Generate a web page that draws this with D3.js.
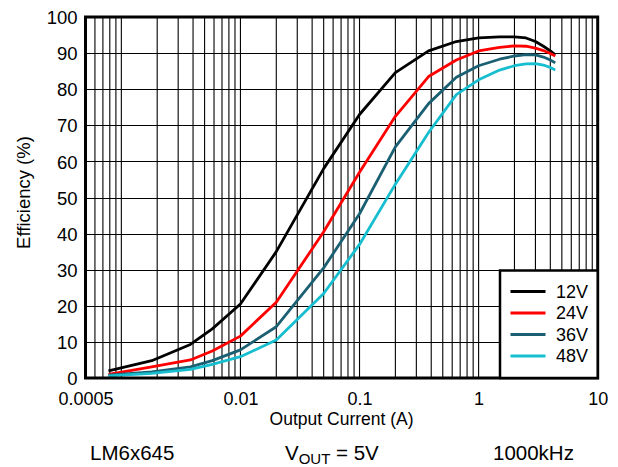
<!DOCTYPE html>
<html>
<head>
<meta charset="utf-8">
<script src="https://cdn.jsdelivr.net/npm/d3@7"></script>
<style>
  html, body { margin: 0; padding: 0; background: #fff; }
  svg { display: block; font-family: "Liberation Sans", Arial, sans-serif; }
</style>
</head>
<body>
<svg id="chart" width="618" height="467"></svg>
<script>
// ---- data ----
const currents = [0.00078, 0.0018, 0.0038, 0.0058, 0.01, 0.02, 0.05, 0.1, 0.2, 0.38, 0.65, 1, 1.5, 2, 2.5, 3, 3.5, 4, 4.4];
const eff12V = [2.0, 4.8, 9.3, 13.6, 20.5, 35.0, 58.0, 73.0, 84.6, 90.6, 93.2, 94.2, 94.5, 94.5, 94.2, 93.2, 91.9, 90.6, 89.5];
const eff24V = [1.0, 3.1, 5.0, 7.5, 11.6, 21.0, 40.5, 57.0, 72.5, 83.5, 88.1, 90.6, 91.6, 92.0, 91.9, 91.4, 90.7, 89.9, 89.2];
const eff36V = [0.8, 1.7, 3.1, 4.8, 7.8, 14.2, 30.5, 45.5, 64.0, 76.0, 83.3, 86.5, 88.3, 89.2, 89.6, 89.5, 88.9, 88.1, 87.3];
const eff48V = [0.6, 1.3, 2.4, 3.8, 5.9, 10.5, 23.4, 37.0, 53.7, 68.0, 78.5, 82.6, 85.3, 86.5, 87.0, 87.1, 86.7, 86.0, 85.3];
const seriesNames = ["12V", "24V", "36V", "48V"];
const seriesColors = ["#000000", "#ff0000", "#1b5f73", "#17becf"];
const yTicks = [0, 10, 20, 30, 40, 50, 60, 70, 80, 90, 100];
const xTickLabels = [0.0005, 0.01, 0.1, 1, 10];

const series = [eff12V, eff24V, eff36V, eff48V].map((vals, i) => ({
  name: seriesNames[i], color: seriesColors[i],
  points: currents.map((c, j) => [c, vals[j]])
}));

// ---- layout ----
const L = 85.5, R = 597.7, T = 17, B = 378;
const svg = d3.select("#chart");
const x = d3.scaleLog().domain([0.0005, 10]).range([L, R]);
const y = d3.scaleLinear().domain([0, 100]).range([B, T]);

// minor vertical grid
const minor = [];
for (let e = -4; e <= 0; e++) {
  for (let m = 1; m <= 9; m++) {
    const v = m * Math.pow(10, e);
    if (v > 0.0005 * 1.0001 && v < 10 * 0.9999) minor.push(+v.toPrecision(3));
  }
}
const g = svg.append("g");
g.selectAll("line.vg").data(minor).join("line")
  .attr("x1", d => x(d)).attr("x2", d => x(d))
  .attr("y1", T).attr("y2", B)
  .attr("stroke", "#000").attr("stroke-width", 1.1);
g.selectAll("line.hg").data(yTicks.slice(1, -1)).join("line")
  .attr("x1", L).attr("x2", R)
  .attr("y1", d => Math.round(y(d)) + 0.5).attr("y2", d => Math.round(y(d)) + 0.5)
  .attr("stroke", "#000").attr("stroke-width", 1.1);

// curves
const line = d3.line().x(d => x(d[0])).y(d => y(d[1]));
svg.append("g").selectAll("path").data(series).join("path")
  .attr("d", d => line(d.points))
  .attr("fill", "none")
  .attr("stroke", d => d.color)
  .attr("stroke-width", 2.8)
  .attr("stroke-linejoin", "round");

// frame
svg.append("rect").attr("x", L).attr("y", T).attr("width", R - L).attr("height", B - T)
  .attr("fill", "none").attr("stroke", "#000").attr("stroke-width", 3);

// y axis
const yAxis = d3.axisLeft(y).tickValues(yTicks).tickSize(0).tickPadding(8).tickFormat(d3.format("d"));
const ya = svg.append("g").attr("transform", `translate(${L},0)`).call(yAxis);
ya.select(".domain").remove();
ya.selectAll("text").attr("font-size", 18.5).attr("fill", "#000")
  .attr("font-family", "Liberation Sans, Arial, sans-serif").attr("dy", "0.36em");

// x axis
const xAxis = d3.axisBottom(x).tickValues(xTickLabels).tickSize(0).tickPadding(14)
  .tickFormat(d => String(d));
const xa = svg.append("g").attr("transform", `translate(0,${B})`).call(xAxis);
xa.select(".domain").remove();
xa.selectAll("text").attr("font-size", 18).attr("fill", "#000")
  .attr("font-family", "Liberation Sans, Arial, sans-serif");

// axis titles
svg.append("text").attr("x", (L + R) / 2).attr("y", 424.5).attr("text-anchor", "middle")
  .attr("font-size", 17.5).text("Output Current (A)");
svg.append("text").attr("transform", `translate(30,${(T + B) / 2 - 5}) rotate(-90)`)
  .attr("text-anchor", "middle").attr("font-size", 18.5).text("Efficiency (%)");

// legend
const lg = svg.append("g");
lg.append("rect").attr("x", 500).attr("y", 270.5).attr("width", R - 500).attr("height", B - 270.5)
  .attr("fill", "#fff").attr("stroke", "#000").attr("stroke-width", 2.5);
const rowY = d3.scalePoint().domain(seriesNames).range([291.5, 356]);
series.forEach(s => {
  lg.append("line").attr("x1", 510.5).attr("x2", 545.5)
    .attr("y1", rowY(s.name)).attr("y2", rowY(s.name))
    .attr("stroke", s.color).attr("stroke-width", 3);
  lg.append("text").attr("x", 556).attr("y", rowY(s.name)).attr("dy", "0.36em")
    .attr("font-size", 18).text(s.name);
});

// footer
svg.append("text").attr("x", 90).attr("y", 460).attr("font-size", 20.5).text("LM6x645");
const vt = svg.append("text").attr("x", 285).attr("y", 460).attr("font-size", 20.5);
vt.append("tspan").text("V");
vt.append("tspan").attr("font-size", 15).attr("dy", 3.5).text("OUT");
vt.append("tspan").attr("dy", -3.5).text(" = 5V");
svg.append("text").attr("x", 493).attr("y", 460).attr("font-size", 20.5).text("1000kHz");
</script>
</body>
</html>
